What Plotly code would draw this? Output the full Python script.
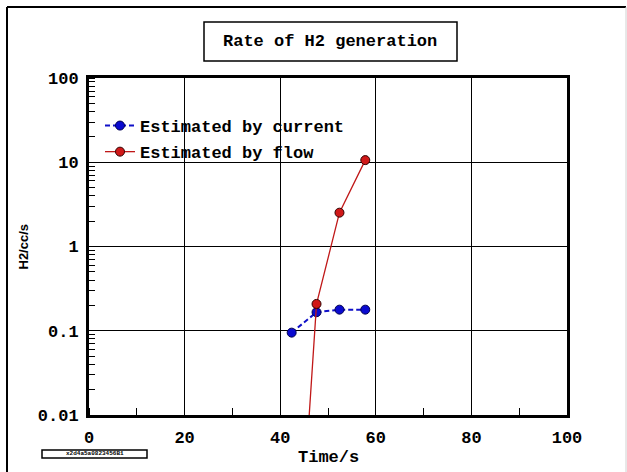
import plotly.graph_objects as go

# Data
current_time = [42.4, 47.6, 52.4, 57.8]
current_rate = [0.095, 0.166, 0.178, 0.178]

flow_time = [45.0, 47.6, 52.4, 57.8]
flow_rate = [0.0012, 0.208, 2.52, 10.6]

x_ticks = [0, 20, 40, 60, 80, 100]
y_ticks = [0.01, 0.1, 1, 10, 100]
y_tick_labels = ["0.01", "0.1", "1", "10", "100"]

MONO = "Liberation Mono"
W, H = 627, 472
L, R, T, B = 89, 60, 78, 57
PW, PH = W - L - R, H - T - B


def px(x):
    return (x - L) / PW


def py(y):
    return (H - B - y) / PH


fig = go.Figure()
fig.add_trace(go.Scatter(
    x=current_time, y=current_rate, mode="lines+markers",
    name="Estimated by current", legendgroup="a",
    line=dict(color="#1010c8", width=2, dash="5px,3px"),
    marker=dict(size=9, color="#0a0ad0", line=dict(color="#000050", width=1)),
))
fig.add_trace(go.Scatter(
    x=flow_time, y=flow_rate, mode="lines+markers",
    name="Estimated by flow", legendgroup="b",
    line=dict(color="#c01818", width=1.3),
    marker=dict(size=9, color="#d01818", line=dict(color="#300000", width=1)),
))

axis_common = dict(
    showline=True, linecolor="black", linewidth=3, mirror=True,
    showgrid=True, gridcolor="black", gridwidth=1,
    zeroline=False, ticks="",
    tickfont=dict(family=MONO, size=17, color="black", weight="bold"),
)

fig.update_xaxes(
    range=[0, 100], tickvals=x_ticks, ticklabelstandoff=5,
    minor=dict(dtick=10, ticks="inside", ticklen=7, tickcolor="black", tickwidth=1, showgrid=False),
    **axis_common,
)
fig.update_yaxes(
    type="log", range=[-2, 2], tickvals=y_ticks, ticktext=y_tick_labels, ticklabelstandoff=4,
    minor=dict(dtick="D1", ticks="inside", ticklen=6, tickcolor="black", tickwidth=1, showgrid=False),
    **axis_common,
)

shapes = [
    # outer frame
    dict(type="line", xref="paper", yref="paper", x0=px(7), x1=px(626), y0=py(7), y1=py(7),
         line=dict(color="black", width=2)),
    dict(type="line", xref="paper", yref="paper", x0=px(7), x1=px(7), y0=py(7), y1=py(480),
         line=dict(color="black", width=2)),
    dict(type="line", xref="paper", yref="paper", x0=px(626), x1=px(626), y0=py(7), y1=py(480),
         line=dict(color="#d0d0d0", width=1)),
    # title box
    dict(type="rect", xref="paper", yref="paper", x0=px(204), x1=px(457), y0=py(61), y1=py(22),
         line=dict(color="black", width=1.5), fillcolor="white"),
    # small box bottom-left
    dict(type="rect", xref="paper", yref="paper", x0=px(42), x1=px(147), y0=py(458), y1=py(450),
         line=dict(color="black", width=1.5), fillcolor="white"),
]

annotations = [
    dict(text="Rate of H2 generation", xref="paper", yref="paper", x=px(330), y=py(41),
         showarrow=False, xanchor="center", yanchor="middle",
         font=dict(family=MONO, size=17, color="black", weight="bold")),
    dict(text="Time/s", xref="paper", yref="paper", x=0.5, y=py(457),
         showarrow=False, xanchor="center", yanchor="middle",
         font=dict(family=MONO, size=17, color="black", weight="bold")),
    dict(text="H2/cc/s", xref="paper", yref="paper", x=px(23), y=0.5, textangle=-90,
         showarrow=False, xanchor="center", yanchor="middle",
         font=dict(family="Liberation Sans", size=13, color="black", weight="bold")),
    dict(text="x2d4a5a0823456B1", xref="paper", yref="paper", x=px(95), y=py(454),
         showarrow=False, xanchor="center", yanchor="middle",
         font=dict(family=MONO, size=6, color="black", weight="bold")),
]

fig.update_layout(
    width=W, height=H,
    margin=dict(l=L, r=R, t=T, b=B, autoexpand=False),
    paper_bgcolor="white", plot_bgcolor="white",
    shapes=shapes, annotations=annotations,
    showlegend=True,
    legend=dict(
        x=px(100), y=py(108), xanchor="left", yanchor="top",
        bgcolor="rgba(0,0,0,0)", borderwidth=0,
        font=dict(family=MONO, size=17, color="black", weight="bold"),
        tracegroupgap=1, itemwidth=30,
    ),
)

fig.write_html(
    "out.html",
    config={"displayModeBar": False},
    post_script="document.body.style.margin='0';document.body.style.overflow='hidden';",
)
